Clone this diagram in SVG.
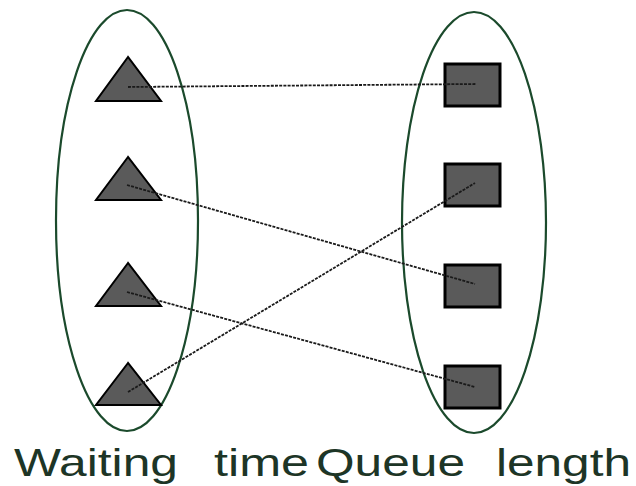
<svg xmlns="http://www.w3.org/2000/svg" width="636" height="486" viewBox="0 0 636 486">
<style>
.ell{fill:none;stroke:#1b4a2c;stroke-width:2.2}
.tri{fill:#5a5a5a;stroke:#000;stroke-width:2;stroke-linejoin:miter}
.sq{fill:#5a5a5a;stroke:#000;stroke-width:3}
.ln{stroke:#1a1a1a;stroke-width:1.8;stroke-dasharray:3 1.2;fill:none}
.lbl{font-family:"Liberation Sans",Arial,sans-serif;font-size:39px;fill:#1d3526}
</style>
<rect width="636" height="486" fill="#fff"/>
<g id="set-waiting"><ellipse class="ell" cx="127" cy="220.5" rx="71" ry="210.5"/></g>
<g id="set-queue"><ellipse class="ell" cx="474" cy="222.5" rx="72" ry="210.5"/></g>
<g id="t1"><polygon class="tri" points="128,57 96,101 161,101"/></g>
<g id="t2"><polygon class="tri" points="128,157 96,200 161,200"/></g>
<g id="t3"><polygon class="tri" points="128,263 96,306 161,306"/></g>
<g id="t4"><polygon class="tri" points="128,363 96,405 161,405"/></g>
<g id="s1"><rect class="sq" x="445" y="64" width="55" height="42"/></g>
<g id="s2"><rect class="sq" x="445" y="164" width="55" height="42"/></g>
<g id="s3"><rect class="sq" x="445" y="265" width="55" height="42"/></g>
<g id="s4"><rect class="sq" x="445" y="366" width="55" height="42"/></g>
<g id="connectors">
<line class="ln" x1="128" y1="87" x2="476" y2="84"/>
<line class="ln" x1="127" y1="185" x2="475" y2="284"/>
<line class="ln" x1="127" y1="292" x2="475" y2="387"/>
<line class="ln" x1="128" y1="392" x2="475" y2="183"/>
</g>
<g id="labels">
<text class="lbl" x="14" y="476" textLength="164" lengthAdjust="spacingAndGlyphs">Waiting</text>
<text class="lbl" x="214" y="476" textLength="95" lengthAdjust="spacingAndGlyphs">time</text>
<text class="lbl" x="316" y="476" textLength="149" lengthAdjust="spacingAndGlyphs">Queue</text>
<text class="lbl" x="496" y="476" textLength="135" lengthAdjust="spacingAndGlyphs">length</text>
</g>
</svg>
